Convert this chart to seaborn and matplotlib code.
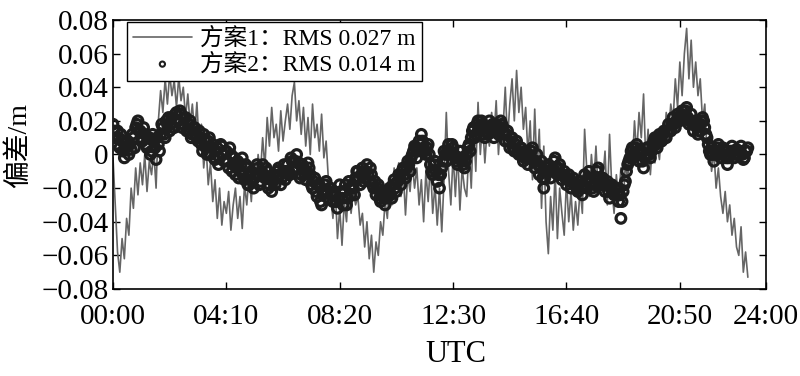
import numpy as np
import pandas as pd
import matplotlib
matplotlib.use('Agg')
import matplotlib.pyplot as plt
import seaborn as sns


# one sample every 5 min, 00:00 -> 23:20
minutes = np.arange(0, 1401, 5)
# scheme 2 is denser: extra samples halfway between
minutes_mid = np.arange(2.5, 1400, 5)

# scheme 1 deviation in mm (12 values per hour)
scheme1_mm = [
    -2, -30, -58, -70, -50, -62, -38, -48, -20, -32, -8, -24,
    -5, -18, 0, -22, -4, -12, 2, -20, 20, 38, 25, 45,
    30, 48, 35, 44, 28, 46, 32, 40, 22, 36, 18, 30,
    12, 31, 5, 18, -8, 6, -18, -5, -28, -15, -38, -20,
    -42, -28, -35, -22, -45, -30, -20, -38, -25, -44, -18, -30,
    -12, -28, -5, -20, 0, -12, 10, -8, 22, 5, 28, 10,
    18, 2, 26, 8, 20, 30, 15, 35, 43, 20, 32, 12,
    28, 5, 22, 0, 30, 10, 18, 2, 24, -2, 8, -15,
    -25, -38, -20, -50, -32, -54, -28, -40, -15, -35, -22, -30,
    -25, -42, -35, -55, -40, -62, -48, -70, -52, -60, -40, -48,
    -28, -38, -15, -30, -8, -20, -5, -25, -10, -36, -12, -22,
    -5, -20, -8, -30, -15, -40, -10, -28, -5, -35, -18, -42,
    -20, -46, -15, 25, -10, -30, 0, -25, 2, -33, -8, -20,
    -25, 5, -20, 18, -10, 31, 0, 20, -5, 15, 5, 25,
    10, 32, 0, 20, 15, 40, 8, 30, 45, 20, 50, 25,
    40, 15, 28, 0, 20, -15, 27, -10, 15, -32, 5, -40,
    -59, -25, -45, -10, -50, -20, -35, -48, -15, -40, -22, -45,
    -28, -42, -20, -35, 15, -10, -25, 0, -18, 5, -22, -5,
    -15, 2, -30, 12, -20, -35, -12, -28, -8, -30, -5, -15,
    5, -8, 20, 0, 25, 10, 36, -5, 15, -12, 8, -5,
    5, -3, 15, 5, 25, 12, 30, 20, 45, 28, 55, 35,
    60, 75, 45, 68, 40, 55, 35, 45, 20, 30, 0, 10,
    -10, 2, -20, -8, -25, -35, -22, -40, -30, -48, -38, -55,
    -60, -43, -70, -58, -73,
]

# scheme 2 deviation in mm, on the 5 min grid
scheme2_mm = [
    18, 10, 14, 4, 8, -2, 5, 0, 3, 10, 16, 20,
    14, 8, 12, 4, 10, 2, 8, -3, 6, 12, 16, 10,
    18, 14, 22, 16, 25, 20, 24, 18, 22, 15, 20, 12,
    16, 10, 14, 6, 12, 4, 8, 0, 6, -3, 4, -2,
    5, -4, 2, -8, 0, -6, -12, -4, -10, -2, -15, -8,
    -18, -10, -20, -12, -8, -16, -6, -14, -10, -18, -22, -12,
    -14, -8, -18, -10, -15, -6, -12, -4, -8, 0, -5, -12,
    -8, -15, -5, -12, -20, -14, -25, -18, -30, -22, -16, -26,
    -20, -28, -24, -32, -18, -26, -22, -30, -16, -24, -20, -14,
    -10, -18, -8, -14, -6, -16, -12, -20, -24, -18, -28, -22,
    -30, -24, -20, -26, -15, -22, -12, -18, -8, -14, -4, -10,
    0, 5, -2, 8, 12, 4, 0, 6, -6, -12, -4, -16,
    -20, -8, 2, -4, 6, 0, 4, -2, -6, 2, -4, -8,
    0, 6, 10, 16, 12, 20, 14, 18, 10, 16, 20, 14,
    10, 18, 12, 20, 16, 8, 14, 4, 10, 2, 8, 0,
    4, -4, 2, -6, -2, 4, -8, 0, -12, -4, -20, -10,
    -6, -14, -8, -2, -12, -6, -15, -10, -18, -12, -20, -14,
    -18, -22, -16, -24, -12, -20, -10, -16, -22, -14, -8, -18,
    -14, -22, -16, -26, -18, -24, -20, -28, -38, -22, -16, -6,
    -2, 4, 0, 6, -4, 2, -8, 0, 4, -2, 6, 10,
    4, 12, 8, 14, 10, 18, 14, 22, 16, 24, 20, 26,
    22, 28, 18, 24, 14, 20, 12, 18, 22, 16, 10, 2,
    4, -4, 0, 6, -2, 4, 2, -6, 0, 5, -2, 3,
    0, 5, -3, 2, 4,
]

# scheme 2 deviation in mm, halfway samples
scheme2_mid_mm = [
    14, 6, 10, 12, 2, 4, 8, 6, 12, 4, 18, 14,
    10, 16, 6, 10, 0, 12, 4, 10, 2, 18, 12, 20,
    22, 18, 16, 24, 20, 26, 16, 22, 14, 18, 10, 16,
    12, 8, 10, 2, 8, 0, 10, 4, -2, 2, -6, 6,
    0, 2, -4, 4, -10, -2, -8, -14, -6, -12, -6, -18,
    -12, -16, -14, -6, -18, -10, -12, -8, -20, -14, -16, -18,
    -10, -12, -14, -6, -10, -12, -2, -10, -4, -8, -14, -6,
    -12, -10, -8, -18, -16, -22, -18, -28, -24, -18, -22, -20,
    -24, -22, -28, -26, -22, -30, -18, -26, -20, -18, -24, -10,
    -14, -12, -16, -10, -12, -8, -18, -16, -20, -26, -24, -26,
    -26, -22, -24, -18, -20, -16, -14, -10, -12, -8, -6, -2,
    2, 4, 2, 6, 8, 2, 4, 0, -10, -6, -10, -12,
    -12, -4, 0, 2, 2, 6, 0, -4, -2, -2, -6, -4,
    4, 2, 14, 10, 18, 16, 20, 12, 14, 12, 16, 18,
    14, 14, 16, 18, 12, 12, 8, 10, 4, 6, 2, 4,
    0, -2, -2, 0, 2, -4, -4, -6, -8, -14, -14, -8,
    -10, -10, -4, -8, -8, -12, -12, -14, -14, -16, -16, -18,
    -20, -18, -20, -18, -16, -14, -14, -20, -18, -10, -14, -16,
    -18, -18, -22, -20, -22, -20, -24, -24, -28, -18, -10, -4,
    2, -2, 4, 2, 0, -4, -2, 4, 0, 2, 8, 6,
    8, 10, 12, 10, 14, 14, 18, 18, 20, 22, 24, 22,
    26, 22, 20, 18, 18, 16, 14, 20, 20, 12, 6, 0,
    0, 2, 4, 2, 0, 2, -2, -2, 2, 2, 0, 0,
    2, 0, -2, 2,
]

xtick_pos = [0, 250, 500, 750, 1000, 1250, 1440]
xtick_lab = ['00:00', '04:10', '08:20', '12:30', '16:40', '20:50', '24:00']
ytick_pos = [-0.08, -0.06, -0.04, -0.02, 0, 0.02, 0.04, 0.06, 0.08]
ytick_lab = ['\u22120.08', '\u22120.06', '\u22120.04', '\u22120.02', '0',
             '0.02', '0.04', '0.06', '0.08']
legend_lab = ['方案1：RMS 0.027 m', '方案2：RMS 0.014 m']

df1 = pd.DataFrame({'t': minutes, 'dev': np.array(scheme1_mm) / 1000})
df2 = pd.concat([
    pd.DataFrame({'t': minutes, 'dev': np.array(scheme2_mm) / 1000}),
    pd.DataFrame({'t': minutes_mid, 'dev': np.array(scheme2_mid_mm) / 1000}),
]).sort_values('t')

sns.set_theme(style='white')
plt.rcParams['font.family'] = ['Liberation Serif', 'Noto Sans CJK SC']
plt.rcParams['axes.unicode_minus'] = True

fig = plt.figure(figsize=(8, 3.76), dpi=100)
ax = fig.add_axes([113 / 800, 1 - 289 / 376, 653 / 800, 269 / 376])

sns.lineplot(data=df1, x='t', y='dev', ax=ax, color='#656565', lw=1.2,
             label=legend_lab[0])
# hollow circles, like matlab's 'o' marker
sns.scatterplot(data=df2, x='t', y='dev', ax=ax, marker='o', s=48,
                facecolor='none', edgecolor='#1e1e1e', linewidth=2.3,
                label=legend_lab[1], zorder=3)

ax.set_xlim(0, 1440)
ax.set_ylim(-0.08, 0.08)
ax.set_xticks(xtick_pos, xtick_lab)
ax.set_yticks(ytick_pos, ytick_lab)
ax.tick_params(direction='in', length=5, width=1, top=True, right=True,
               bottom=True, left=True, labelsize=21, colors='black')
ax.tick_params(axis='x', pad=11)
ax.tick_params(axis='y', pad=3)
for sp in ax.spines.values():
    sp.set_visible(True)
    sp.set_color('black')
    sp.set_linewidth(1.2)

ax.set_xlabel('UTC', fontsize=22, color='black')
ax.set_ylabel('偏差/m', fontsize=20, color='black')
ax.xaxis.set_label_coords(0.525, -0.19)
ax.yaxis.set_label_coords(-0.124, 0.535)

leg = ax.legend(loc='upper left', bbox_to_anchor=(0.0214, 0.9926),
                borderaxespad=0, frameon=True, fancybox=False,
                edgecolor='black', framealpha=1, fontsize=17,
                handlelength=2.5, handletextpad=0.35, labelspacing=0.12,
                borderpad=0.25)
leg.get_frame().set_linewidth(1.0)
leg.legend_handles[1].set_sizes([14])
leg.legend_handles[1].set_linewidths([1.5])
for t in leg.get_texts():
    t.set_color('black')

fig.savefig('out.png', dpi=100)
